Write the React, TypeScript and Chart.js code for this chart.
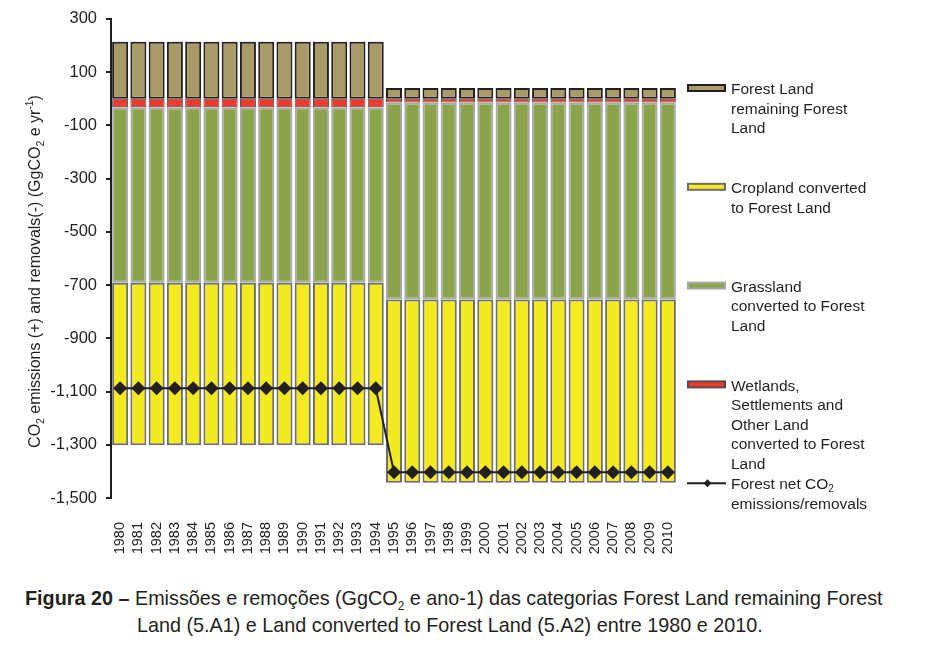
import React, { useEffect, useRef } from "react";
import { Chart, registerables } from "chart.js";

Chart.register(...registerables);

const years = [
  "1980", "1981", "1982", "1983", "1984", "1985", "1986", "1987", "1988", "1989",
  "1990", "1991", "1992", "1993", "1994", "1995", "1996", "1997", "1998", "1999",
  "2000", "2001", "2002", "2003", "2004", "2005", "2006", "2007", "2008", "2009", "2010",
];

const forestLandRemaining = [
  214, 214, 214, 214, 214, 214, 214, 214, 214, 214, 214, 214, 214, 214, 214,
  40, 40, 40, 40, 40, 40, 40, 40, 40, 40, 40, 40, 40, 40, 40, 40,
];
const wetlandsConverted = [
  -32, -32, -32, -32, -32, -32, -32, -32, -32, -32, -32, -32, -32, -32, -32,
  -14, -14, -14, -14, -14, -14, -14, -14, -14, -14, -14, -14, -14, -14, -14, -14,
];
const grasslandConverted = [
  -659, -659, -659, -659, -659, -659, -659, -659, -659, -659, -659, -659, -659, -659, -659,
  -740, -740, -740, -740, -740, -740, -740, -740, -740, -740, -740, -740, -740, -740, -740, -740,
];
const croplandConverted = [
  -611, -611, -611, -611, -611, -611, -611, -611, -611, -611, -611, -611, -611, -611, -611,
  -689, -689, -689, -689, -689, -689, -689, -689, -689, -689, -689, -689, -689, -689, -689, -689,
];
const forestNet = [
  -1088, -1088, -1088, -1088, -1088, -1088, -1088, -1088, -1088, -1088, -1088, -1088, -1088, -1088, -1088,
  -1403, -1403, -1403, -1403, -1403, -1403, -1403, -1403, -1403, -1403, -1403, -1403, -1403, -1403, -1403, -1403,
];

const yMin = -1500;
const yMax = 300;
const yStep = 200;

const DARK = "#231F20";
const FOREST_FILL = "#A99B68";
const CROP_FILL = "#F3EA1F";
const CROP_BORDER = "#6D6E71";
const GRASS_FILL = "#8BA44B";
const GRASS_BORDER = "#A7A9AC";
const WET_FILL = "#EE3A2E";
const WET_BORDER = "#5A4A4A";

type Seg = { t: string; sub?: boolean; sup?: boolean };

const yTitle: Seg[] = [
  { t: "CO" }, { t: "2", sub: true },
  { t: " emissions (+) and removals(-) (GgCO" }, { t: "2", sub: true },
  { t: " e yr" }, { t: "-1", sup: true }, { t: ")" },
];

const legendEntries: { kind: string; fill: string; stroke: string; lines: Seg[][] }[] = [
  { kind: "box", fill: FOREST_FILL, stroke: DARK, lines: [[{ t: "Forest Land" }], [{ t: "remaining Forest" }], [{ t: "Land" }]] },
  { kind: "box", fill: CROP_FILL, stroke: CROP_BORDER, lines: [[{ t: "Cropland converted" }], [{ t: "to Forest Land" }]] },
  { kind: "box", fill: GRASS_FILL, stroke: GRASS_BORDER, lines: [[{ t: "Grassland" }], [{ t: "converted to Forest" }], [{ t: "Land" }]] },
  { kind: "box", fill: WET_FILL, stroke: WET_BORDER, lines: [[{ t: "Wetlands," }], [{ t: "Settlements and" }], [{ t: "Other Land" }], [{ t: "converted to Forest" }], [{ t: "Land" }]] },
  { kind: "line", fill: DARK, stroke: DARK, lines: [[{ t: "Forest net CO" }, { t: "2", sub: true }], [{ t: "emissions/removals" }]] },
];

const SANS = '"Liberation Sans", Arial, Helvetica, sans-serif';
const LEGEND_FONT = '"Liberation Sans", Arial, sans-serif';

function segFont(size: number, family: string, small: boolean) {
  return `${small ? size * 0.65 : size}px ${family}`;
}

function measureRich(ctx: CanvasRenderingContext2D, segs: Seg[], size: number, family: string) {
  let w = 0;
  for (const s of segs) {
    ctx.font = segFont(size, family, !!(s.sub || s.sup));
    w += ctx.measureText(s.t).width;
  }
  return w;
}

function drawRich(ctx: CanvasRenderingContext2D, segs: Seg[], x: number, y: number, size: number, family: string) {
  let cx = x;
  for (const s of segs) {
    const small = !!(s.sub || s.sup);
    ctx.font = segFont(size, family, small);
    let dy = 0;
    if (s.sub) dy = size * 0.28;
    if (s.sup) dy = -size * 0.38;
    ctx.fillText(s.t, cx, y + dy);
    cx += ctx.measureText(s.t).width;
  }
}

const yTitlePlugin = {
  id: "yTitleRich",
  afterDraw(chart: any) {
    const ctx: CanvasRenderingContext2D = chart.ctx;
    const size = 16;
    ctx.save();
    ctx.translate(39.5, 271.5);
    ctx.rotate(-Math.PI / 2);
    ctx.fillStyle = DARK;
    ctx.textBaseline = "alphabetic";
    ctx.textAlign = "left";
    const w = measureRich(ctx, yTitle, size, SANS);
    drawRich(ctx, yTitle, -w / 2, 0, size, SANS);
    ctx.restore();
  },
};

const legendPlugin = {
  id: "sideLegend",
  afterDraw(chart: any) {
    const ctx: CanvasRenderingContext2D = chart.ctx;
    const x0 = 687;
    const symW = 39;
    const textX = 731;
    const y0 = 88;
    const step = 98.8;
    const lineH = 19.6;
    const size = 15.5;
    ctx.save();
    legendEntries.forEach((e, i) => {
      const cy = y0 + i * step;
      if (e.kind === "box") {
        ctx.fillStyle = e.stroke;
        ctx.fillRect(x0, cy - 4, symW, 8);
        ctx.fillStyle = e.fill;
        ctx.fillRect(x0 + 2, cy - 2, symW - 4, 4);
      } else {
        ctx.strokeStyle = e.stroke;
        ctx.lineWidth = 2;
        ctx.beginPath();
        ctx.moveTo(x0, cy);
        ctx.lineTo(x0 + symW, cy);
        ctx.stroke();
        ctx.fillStyle = e.fill;
        ctx.beginPath();
        const mx = x0 + symW / 2 + 1;
        ctx.moveTo(mx, cy - 4);
        ctx.lineTo(mx + 4, cy);
        ctx.lineTo(mx, cy + 4);
        ctx.lineTo(mx - 4, cy);
        ctx.closePath();
        ctx.fill();
      }
      ctx.fillStyle = DARK;
      ctx.textBaseline = "middle";
      ctx.textAlign = "left";
      e.lines.forEach((ln, j) => {
        drawRich(ctx, ln, textX, cy + 2 + j * lineH, size, LEGEND_FONT);
      });
    });
    ctx.restore();
  },
};

export default function App() {
  const ref = useRef<HTMLCanvasElement | null>(null);

  useEffect(() => {
    if (!ref.current) return;
    const chart = new Chart(ref.current, {
      type: "bar",
      data: {
        labels: years,
        datasets: [
          {
            type: "line",
            label: "Forest net CO2 emissions/removals",
            data: forestNet,
            stack: "net",
            borderColor: DARK,
            borderWidth: 2,
            pointStyle: "rectRot",
            pointRadius: 7,
            pointBackgroundColor: DARK,
            pointBorderColor: DARK,
            pointBorderWidth: 0,
            tension: 0,
          } as any,
          {
            label: "Forest Land remaining Forest Land",
            data: forestLandRemaining,
            backgroundColor: FOREST_FILL,
            borderColor: DARK,
            borderWidth: 2,
          },
          {
            label: "Wetlands, Settlements and Other Land converted to Forest Land",
            data: wetlandsConverted,
            backgroundColor: WET_FILL,
            borderColor: WET_BORDER,
            borderWidth: 1,
          },
          {
            label: "Grassland converted to Forest Land",
            data: grasslandConverted,
            backgroundColor: GRASS_FILL,
            borderColor: GRASS_BORDER,
            borderWidth: 2,
          },
          {
            label: "Cropland converted to Forest Land",
            data: croplandConverted,
            backgroundColor: CROP_FILL,
            borderColor: CROP_BORDER,
            borderWidth: 2,
          },
        ],
      },
      options: {
        responsive: false,
        animation: false,
        layout: { padding: { top: 16, right: 252, left: 0, bottom: 0 } },
        plugins: { legend: { display: false }, tooltip: { enabled: false } },
        datasets: {
          bar: { barPercentage: 0.876, categoryPercentage: 1, borderSkipped: false },
        } as any,
        scales: {
          x: {
            stacked: true,
            grid: { display: false, drawTicks: false },
            border: { display: false },
            ticks: {
              autoSkip: false,
              minRotation: 90,
              maxRotation: 90,
              padding: 24,
              color: DARK,
              font: { family: SANS, size: 14.5 },
            },
            afterFit: (s: any) => {
              s.height = 82;
            },
          },
          y: {
            stacked: true,
            min: yMin,
            max: yMax,
            ticks: {
              stepSize: yStep,
              padding: 9,
              color: DARK,
              font: { family: SANS, size: 16.5 },
            },
            grid: { drawOnChartArea: false, color: DARK, lineWidth: 2, tickLength: 5 },
            border: { color: DARK, width: 2 },
            afterFit: (s: any) => {
              s.width = 111;
            },
          },
        },
      } as any,
      plugins: [yTitlePlugin, legendPlugin],
    });
    return () => chart.destroy();
  }, []);

  return (
    <div style={{ position: "absolute", left: 0, top: 0, width: 929, height: 652, background: "#fff", overflow: "hidden" }}>
      <canvas ref={ref} width={929} height={580} style={{ position: "absolute", left: 0, top: 0, width: 929, height: 580, display: "block" }} />
      <div
        style={{
          position: "absolute",
          left: 25,
          top: 585,
          paddingLeft: 112,
          textIndent: -112,
          fontFamily: SANS,
          fontSize: 19.8,
          lineHeight: "27px",
          color: DARK,
          whiteSpace: "nowrap",
        }}
      >
        <b>Figura 20 –</b> Emissões e remoções (GgCO<sub style={{ fontSize: "0.6em", lineHeight: 0 }}>2</sub> e ano-1) das categorias Forest Land remaining Forest
        <br />
        Land (5.A1) e Land converted to Forest Land (5.A2) entre 1980 e 2010.
      </div>
    </div>
  );
}
